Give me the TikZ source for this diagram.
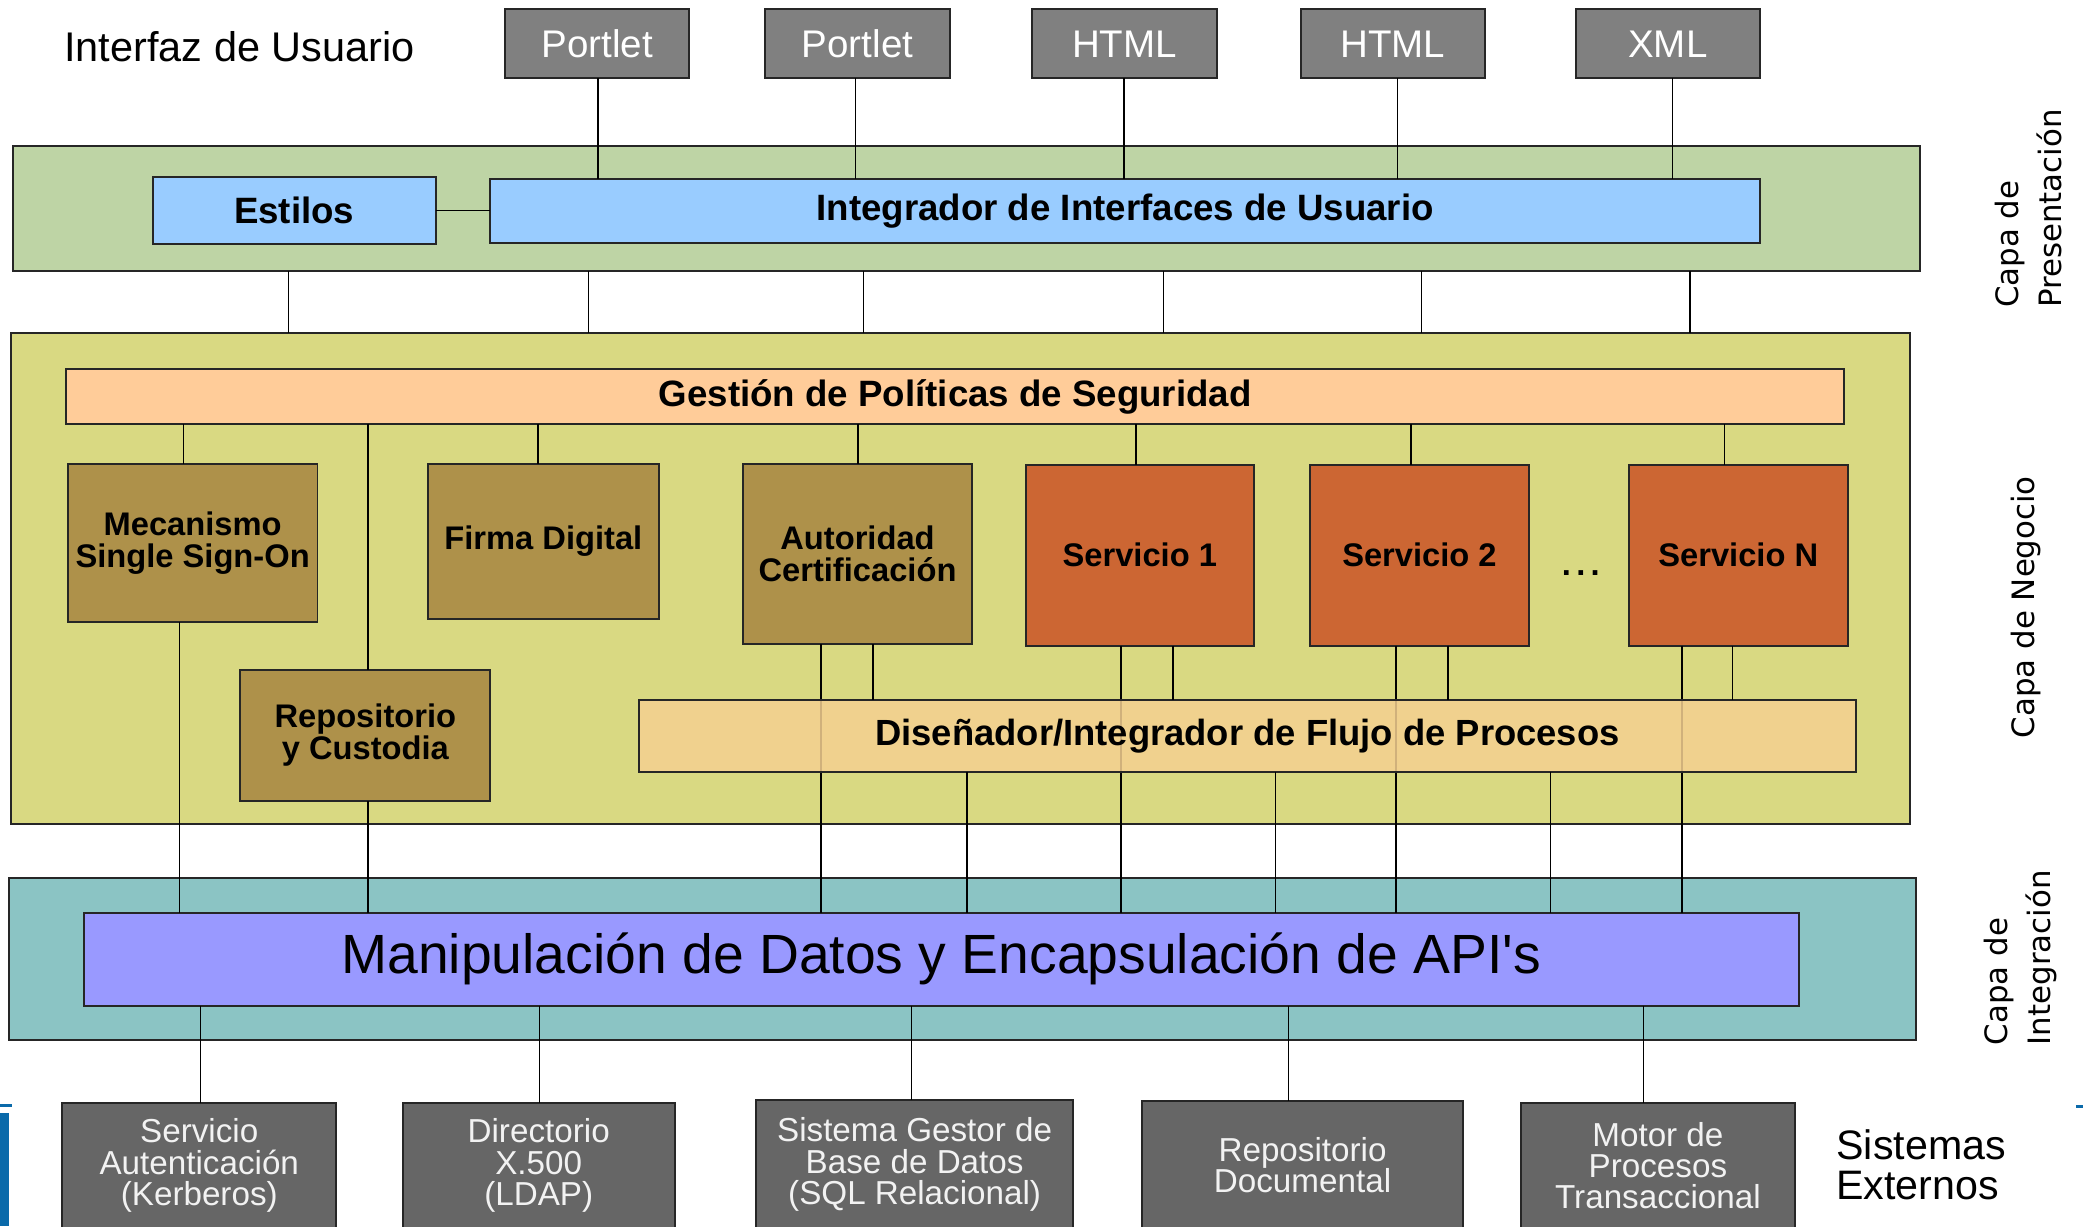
\documentclass[tikz,border=0pt]{standalone}
\usepackage{fontspec}
\setmainfont{Liberation Sans}
\newfontfamily\dvfont{DejaVu Sans}
\definecolor{gtop}{RGB}{128,128,128}
\definecolor{gbot}{RGB}{102,102,102}
\definecolor{presg}{RGB}{190,212,165}
\definecolor{lblue}{RGB}{153,204,255}
\definecolor{negy}{RGB}{217,217,130}
\definecolor{peach}{RGB}{255,204,153}
\definecolor{dispeach}{RGB}{245,208,145}
\definecolor{brownb}{RGB}{174,145,74}
\definecolor{orangeb}{RGB}{204,102,51}
\definecolor{tealb}{RGB}{139,196,196}
\definecolor{purpb}{RGB}{153,153,255}
\definecolor{artblue}{RGB}{10,106,170}
\tikzset{
  box/.style={draw=black!85, line width=0.75pt, inner sep=0pt, outer sep=0pt, align=center},
  conn/.style={draw=black, line width=0.55pt},
  topbox/.style={box, fill=gtop, text=white, font=\fontsize{14.5}{17}\selectfont},
  band/.style={box},
  bluebox/.style={box, fill=lblue, font=\bfseries\fontsize{13.8}{16}\selectfont},
  brownbox/.style={box, fill=brownb, font=\bfseries\fontsize{12.3}{12}\selectfont},
  orangebox/.style={box, fill=orangeb, font=\bfseries\fontsize{12.3}{12}\selectfont},
  extbox/.style={box, fill=gbot, text=black!5, font=\fontsize{12.5}{11.8}\selectfont},
  sidelabel/.style={rotate=90, align=left, inner sep=0pt, font=\dvfont\fontsize{11.6}{16}\selectfont},
}
\newcommand\bx[7]{\node[#6, minimum width={(#4-#2)*0.5pt}, minimum height={(#5-#3)*0.5pt}] (#1) at ({(#2+#4)/2},{(#3+#5)/2}) {#7};}
\newcommand\vc[3]{\draw[conn] (#1,0 |- #2) -- (#1,0 |- #3);}
\begin{document}
\begin{tikzpicture}[x=0.5pt,y=-0.5pt]
\useasboundingbox (0,0) rectangle (1568,923);
\clip (0,0) rectangle (1568,923);
\fill[white] (0,0) rectangle (1568,923);
% title
\node[anchor=west, inner sep=0pt, font=\fontsize{15.6}{18}\selectfont] (title) at (48,35) {Interfaz de Usuario};
% top boxes
\bx{p1}{380}{7}{519}{59}{topbox}{Portlet}
\bx{p2}{576}{7}{715}{59}{topbox}{Portlet}
\bx{h1}{777}{7}{916}{59}{topbox}{HTML}
\bx{h2}{979}{7}{1118}{59}{topbox}{HTML}
\bx{xml}{1186}{7}{1325}{59}{topbox}{XML}
% presentation band
\bx{pres}{10}{110}{1445}{204}{band, fill=presg}{}
\bx{est}{115}{133}{328}{184}{bluebox}{Estilos}
\bx{integ}{369}{135}{1325}{183}{bluebox}{Integrador de Interfaces de Usuario}
\vc{450}{p1.south}{integ.north}
\vc{644}{p2.south}{integ.north}
\vc{846}{h1.south}{integ.north}
\vc{1052}{h2.south}{integ.north}
\vc{1259}{xml.south}{integ.north}
\draw[conn] (est.east) -- (integ.west |- est.east);
% business band
\bx{neg}{8}{251}{1438}{620}{band, fill=negy}{}
\foreach \xx in {217,443,650,876,1070,1272}{\vc{\xx}{pres.south}{neg.north}}
\bx{gest}{50}{278}{1388}{319}{box, fill=peach, font=\bfseries\fontsize{13.8}{16}\selectfont}{Gestión de Políticas de Seguridad}
\bx{mec}{51}{349}{239}{468}{brownbox}{Mecanismo\\Single Sign-On}
\bx{firma}{322}{349}{496}{466}{brownbox}{Firma Digital}
\bx{aut}{559}{349}{732}{485}{brownbox}{Autoridad\\Certificación}
\bx{s1}{772}{350}{944}{486}{orangebox}{Servicio 1}
\bx{s2}{986}{350}{1151}{486}{orangebox}{Servicio 2}
\bx{sn}{1226}{350}{1391}{486}{orangebox}{Servicio N}
\node[font=\bfseries\fontsize{12.3}{12}\selectfont, inner sep=0pt] (dots) at (1190,431) {.\kern2pt.\kern2pt.};
\bx{rep}{181}{504}{369}{603}{brownbox}{Repositorio\\y Custodia}
\vc{138}{gest.south}{mec.north}
\vc{277}{gest.south}{rep.north}
\vc{405}{gest.south}{firma.north}
\vc{646}{gest.south}{aut.north}
\vc{855}{gest.south}{s1.north}
\vc{1062}{gest.south}{s2.north}
\vc{1298}{gest.south}{sn.north}
% integration band
\bx{intl}{7}{661}{1442}{783}{band, fill=tealb}{}
\bx{manip}{63}{687}{1354}{757}{box, fill=purpb, font=\fontsize{20.8}{24}\selectfont}{Manipulación de Datos y Encapsulación de API\textquotesingle s}
\vc{135}{mec.south}{manip.north}
\vc{277}{rep.south}{manip.north}
\vc{618}{aut.south}{manip.north}
\vc{844}{s1.south}{manip.north}
\vc{1051}{s2.south}{manip.north}
\vc{1266}{sn.south}{manip.north}
\bx{dis}{481}{527}{1397}{581}{box, fill=dispeach, fill opacity=0.85, text opacity=1, font=\bfseries\fontsize{13.7}{16}\selectfont}{Diseñador/Integrador de Flujo de Procesos}
\vc{657}{aut.south}{dis.north}
\vc{883}{s1.south}{dis.north}
\vc{1090}{s2.south}{dis.north}
\vc{1304}{sn.south}{dis.north}
\vc{728}{dis.south}{manip.north}
\vc{960}{dis.south}{manip.north}
\vc{1167}{dis.south}{manip.north}
% external systems
\bx{e1}{47}{830}{253}{925}{extbox}{Servicio\\Autenticación\\(Kerberos)}
\bx{e2}{303}{830}{508}{925}{extbox}{Directorio\\X.500\\(LDAP)}
\bx{e3}{569}{828}{808}{925}{extbox}{Sistema Gestor de\\Base de Datos\\(SQL Relacional)}
\bx{e4}{860}{829}{1101}{925}{extbox}{Repositorio\\Documental}
\bx{e5}{1145}{830}{1351}{925}{extbox}{Motor de\\Procesos\\Transaccional}
\vc{151}{manip.south}{e1.north}
\vc{406}{manip.south}{e2.north}
\vc{686}{manip.south}{e3.north}
\vc{970}{manip.south}{e4.north}
\vc{1237}{manip.south}{e5.north}
\node[anchor=west, align=left, inner sep=0pt, font=\fontsize{15.5}{15}\selectfont] (sext) at (1382,877) {Sistemas\\Externos};
% side labels
\node[sidelabel] (lpres) at (1527,157) {Capa de\\Presentación};
\node[sidelabel] (lneg) at (1525,457) {Capa de Negocio};
\node[sidelabel] (lint) at (1521,721) {Capa de\\Integración};
% edge artefacts
\fill[artblue] (0,838) rectangle (7,923);
\fill[artblue] (0,831) rectangle (9,833);
\fill[artblue] (1563,832) rectangle (1568,834);
\end{tikzpicture}
\end{document}
